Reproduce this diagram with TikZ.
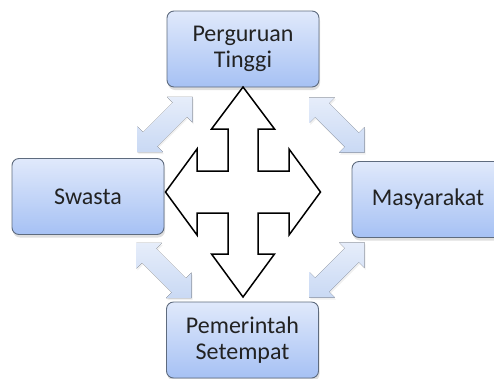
\documentclass[tikz,border=0pt]{standalone}
\usepackage{fontspec}
\setmainfont{Carlito}
\usetikzlibrary{shadows}
\definecolor{boxtop}{HTML}{E0E9FB}
\definecolor{boxbottom}{HTML}{A6C1F4}
\definecolor{boxline}{HTML}{5E6B7E}
\definecolor{linktop}{HTML}{E6EDFA}
\definecolor{linkbottom}{HTML}{C9D9F4}
\definecolor{labelgray}{HTML}{222222}

\tikzset{
  partner/.style={draw=boxline, line width=0.9pt, rounded corners=7pt,
    top color=boxtop, bottom color=boxbottom, minimum width=152pt,
    minimum height=76pt, inner sep=0pt, align=center, text=labelgray,
    font=\fontsize{24}{26}\selectfont,
    drop shadow={shadow xshift=1pt, shadow yshift=-3pt, opacity=0.25}},
  linkfill/.style={draw=none, top color=linktop, bottom color=linkbottom,
    drop shadow={shadow xshift=1pt, shadow yshift=-2pt, opacity=0.12}},
  pics/link/.style={code={
    \fill[linkfill] (-39,0) -- (-21,-18) -- (-21,-10) -- (21,-10)
      -- (21,-18) -- (39,0) -- (21,18) -- (21,10) -- (-21,10)
      -- (-21,18) -- cycle;
    \coordinate (-mid) at (0,0);
  }}
}

\begin{document}
\begin{tikzpicture}[x=1pt, y=-1pt]
\useasboundingbox (0,0) rectangle (494,378);

% the four partners
\node[partner] (pt) at (243,49) {Perguruan\\Tinggi};
\node[partner] (swasta) at (88,196.5) {Swasta};
\node[partner] (mas) at (428,199.5) {Masyarakat};
\node[partner] (pemda) at (242.5,340) {Pemerintah\\Setempat};

% light links between neighbours
\pic[rotate=45] (lnw) at (165,124.5) {link};
\pic[rotate=-45] (lne) at (337,125) {link};
\pic[rotate=-45] (lsw) at (164,270.5) {link};
\pic[rotate=45] (lse) at (337,270) {link};

% four-way arrow in the middle
\coordinate (hub) at (243,192);
\draw[line width=1.5pt, fill=white, line join=miter] (hub)
  ++(0,-105) -- ++(31.5,42) -- ++(-16.5,0) -- ++(0,42) -- ++(31,0)
  -- ++(0,-22) -- ++(31.5,43) -- ++(-31.5,43) -- ++(0,-22) -- ++(-31,0)
  -- ++(0,41) -- ++(16.5,0) -- ++(-31.5,43) -- ++(-31.5,-43) -- ++(16.5,0)
  -- ++(0,-41) -- ++(-31,0) -- ++(0,22) -- ++(-31.5,-43) -- ++(31.5,-43)
  -- ++(0,22) -- ++(31,0) -- ++(0,-42) -- ++(-16.5,0) -- cycle;
\end{tikzpicture}
\end{document}
